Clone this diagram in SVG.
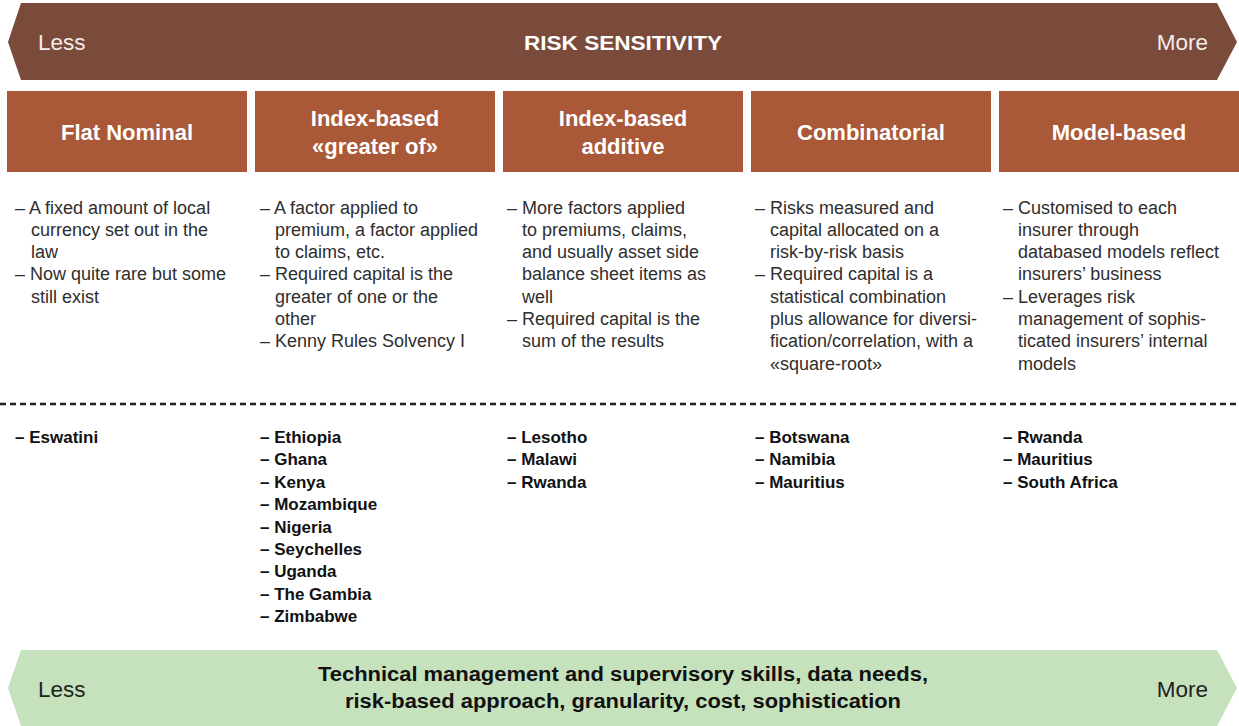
<svg xmlns="http://www.w3.org/2000/svg" width="1239" height="726" viewBox="0 0 1239 726">
<style>
  text { font-family: "Liberation Sans", Arial, sans-serif; }
  .band-top { fill: #7A4A3B; }
  .band-bot { fill: #C6E2BD; }
  .hdr { fill: #A95838; }
  .hdrtxt { fill: #ffffff; font-size: 22px; font-weight: bold; text-anchor: middle; }
  .endw { fill: #f4ece9; font-size: 22.5px; }
  .endk { fill: #222222; font-size: 22.5px; }
  .body { fill: #2e2e2e; font-size: 18px; }
  .ctry { fill: #111111; font-size: 17px; font-weight: bold; }
  .sep { stroke: #222222; stroke-width: 2.5; stroke-dasharray: 6 4; fill: none; }
</style>

<g id="risk-sensitivity">
  <polygon class="band-top" points="21,3 1217,3 1237,42 1217,80 21,80 8,42"/>
  <text class="endw" x="38" y="50">Less</text>
  <text x="623" y="50" fill="#ffffff" font-size="20" font-weight="bold" text-anchor="middle" textLength="198" lengthAdjust="spacingAndGlyphs">RISK SENSITIVITY</text>
  <text class="endw" x="1208" y="50" text-anchor="end">More</text>
</g>

<g id="col-flat-nominal">
  <rect class="hdr" x="7" y="91" width="240" height="81"/>
  <text class="hdrtxt" x="127" y="140">Flat Nominal</text>
  <text class="body" y="213.5">
    <tspan x="15">– A fixed amount of local</tspan>
    <tspan x="31" dy="22.3">currency set out in the</tspan>
    <tspan x="31" dy="22.3">law</tspan>
    <tspan x="15" dy="22.3">– Now quite rare but some</tspan>
    <tspan x="31" dy="22.3">still exist</tspan>
  </text>
  <text class="ctry" y="443">
    <tspan x="15">– Eswatini</tspan>
  </text>
</g>

<g id="col-index-greater">
  <rect class="hdr" x="255" y="91" width="240" height="81"/>
  <text class="hdrtxt" x="375" y="126">Index-based</text>
  <text class="hdrtxt" x="375" y="154">«greater of»</text>
  <text class="body" y="213.5">
    <tspan x="260">– A factor applied to</tspan>
    <tspan x="275" dy="22.3">premium, a factor applied</tspan>
    <tspan x="275" dy="22.3">to claims, etc.</tspan>
    <tspan x="260" dy="22.3">– Required capital is the</tspan>
    <tspan x="275" dy="22.3">greater of one or the</tspan>
    <tspan x="275" dy="22.3">other</tspan>
    <tspan x="260" dy="22.3">– Kenny Rules Solvency I</tspan>
  </text>
  <text class="ctry" y="443">
    <tspan x="260">– Ethiopia</tspan>
    <tspan x="260" dy="22.4">– Ghana</tspan>
    <tspan x="260" dy="22.4">– Kenya</tspan>
    <tspan x="260" dy="22.4">– Mozambique</tspan>
    <tspan x="260" dy="22.4">– Nigeria</tspan>
    <tspan x="260" dy="22.4">– Seychelles</tspan>
    <tspan x="260" dy="22.4">– Uganda</tspan>
    <tspan x="260" dy="22.4">– The Gambia</tspan>
    <tspan x="260" dy="22.4">– Zimbabwe</tspan>
  </text>
</g>

<g id="col-index-additive">
  <rect class="hdr" x="503" y="91" width="240" height="81"/>
  <text class="hdrtxt" x="623" y="126">Index-based</text>
  <text class="hdrtxt" x="623" y="154">additive</text>
  <text class="body" y="213.5">
    <tspan x="507">– More factors applied</tspan>
    <tspan x="522" dy="22.3">to premiums, claims,</tspan>
    <tspan x="522" dy="22.3">and usually asset side</tspan>
    <tspan x="522" dy="22.3">balance sheet items as</tspan>
    <tspan x="522" dy="22.3">well</tspan>
    <tspan x="507" dy="22.3">– Required capital is the</tspan>
    <tspan x="522" dy="22.3">sum of the results</tspan>
  </text>
  <text class="ctry" y="443">
    <tspan x="507">– Lesotho</tspan>
    <tspan x="507" dy="22.4">– Malawi</tspan>
    <tspan x="507" dy="22.4">– Rwanda</tspan>
  </text>
</g>

<g id="col-combinatorial">
  <rect class="hdr" x="751" y="91" width="240" height="81"/>
  <text class="hdrtxt" x="871" y="140">Combinatorial</text>
  <text class="body" y="213.5">
    <tspan x="755">– Risks measured and</tspan>
    <tspan x="770" dy="22.3">capital allocated on a</tspan>
    <tspan x="770" dy="22.3">risk-by-risk basis</tspan>
    <tspan x="755" dy="22.3">– Required capital is a</tspan>
    <tspan x="770" dy="22.3">statistical combination</tspan>
    <tspan x="770" dy="22.3">plus allowance for diversi-</tspan>
    <tspan x="770" dy="22.3">fication/correlation, with a</tspan>
    <tspan x="770" dy="22.3">«square-root»</tspan>
  </text>
  <text class="ctry" y="443">
    <tspan x="755">– Botswana</tspan>
    <tspan x="755" dy="22.4">– Namibia</tspan>
    <tspan x="755" dy="22.4">– Mauritius</tspan>
  </text>
</g>

<g id="col-model-based">
  <rect class="hdr" x="999" y="91" width="240" height="81"/>
  <text class="hdrtxt" x="1119" y="140">Model-based</text>
  <text class="body" y="213.5">
    <tspan x="1003">– Customised to each</tspan>
    <tspan x="1018" dy="22.3">insurer through</tspan>
    <tspan x="1018" dy="22.3">databased models reflect</tspan>
    <tspan x="1018" dy="22.3">insurers’ business</tspan>
    <tspan x="1003" dy="22.3">– Leverages risk</tspan>
    <tspan x="1018" dy="22.3">management of sophis-</tspan>
    <tspan x="1018" dy="22.3">ticated insurers’ internal</tspan>
    <tspan x="1018" dy="22.3">models</tspan>
  </text>
  <text class="ctry" y="443">
    <tspan x="1003">– Rwanda</tspan>
    <tspan x="1003" dy="22.4">– Mauritius</tspan>
    <tspan x="1003" dy="22.4">– South Africa</tspan>
  </text>
</g>

<g id="separator">
  <line class="sep" x1="0" y1="404" x2="1239" y2="404"/>
</g>

<g id="requirements">
  <polygon class="band-bot" points="21,650 1217,650 1237,688 1217,726 21,726 8,688"/>
  <text class="endk" x="38" y="697">Less</text>
  <text x="623" y="681" fill="#111111" font-size="20" font-weight="bold" text-anchor="middle" textLength="610" lengthAdjust="spacingAndGlyphs">Technical management and supervisory skills, data needs,</text>
  <text x="623" y="708" fill="#111111" font-size="20" font-weight="bold" text-anchor="middle" textLength="556" lengthAdjust="spacingAndGlyphs">risk-based approach, granularity, cost, sophistication</text>
  <text class="endk" x="1208" y="697" text-anchor="end">More</text>
</g>
</svg>
